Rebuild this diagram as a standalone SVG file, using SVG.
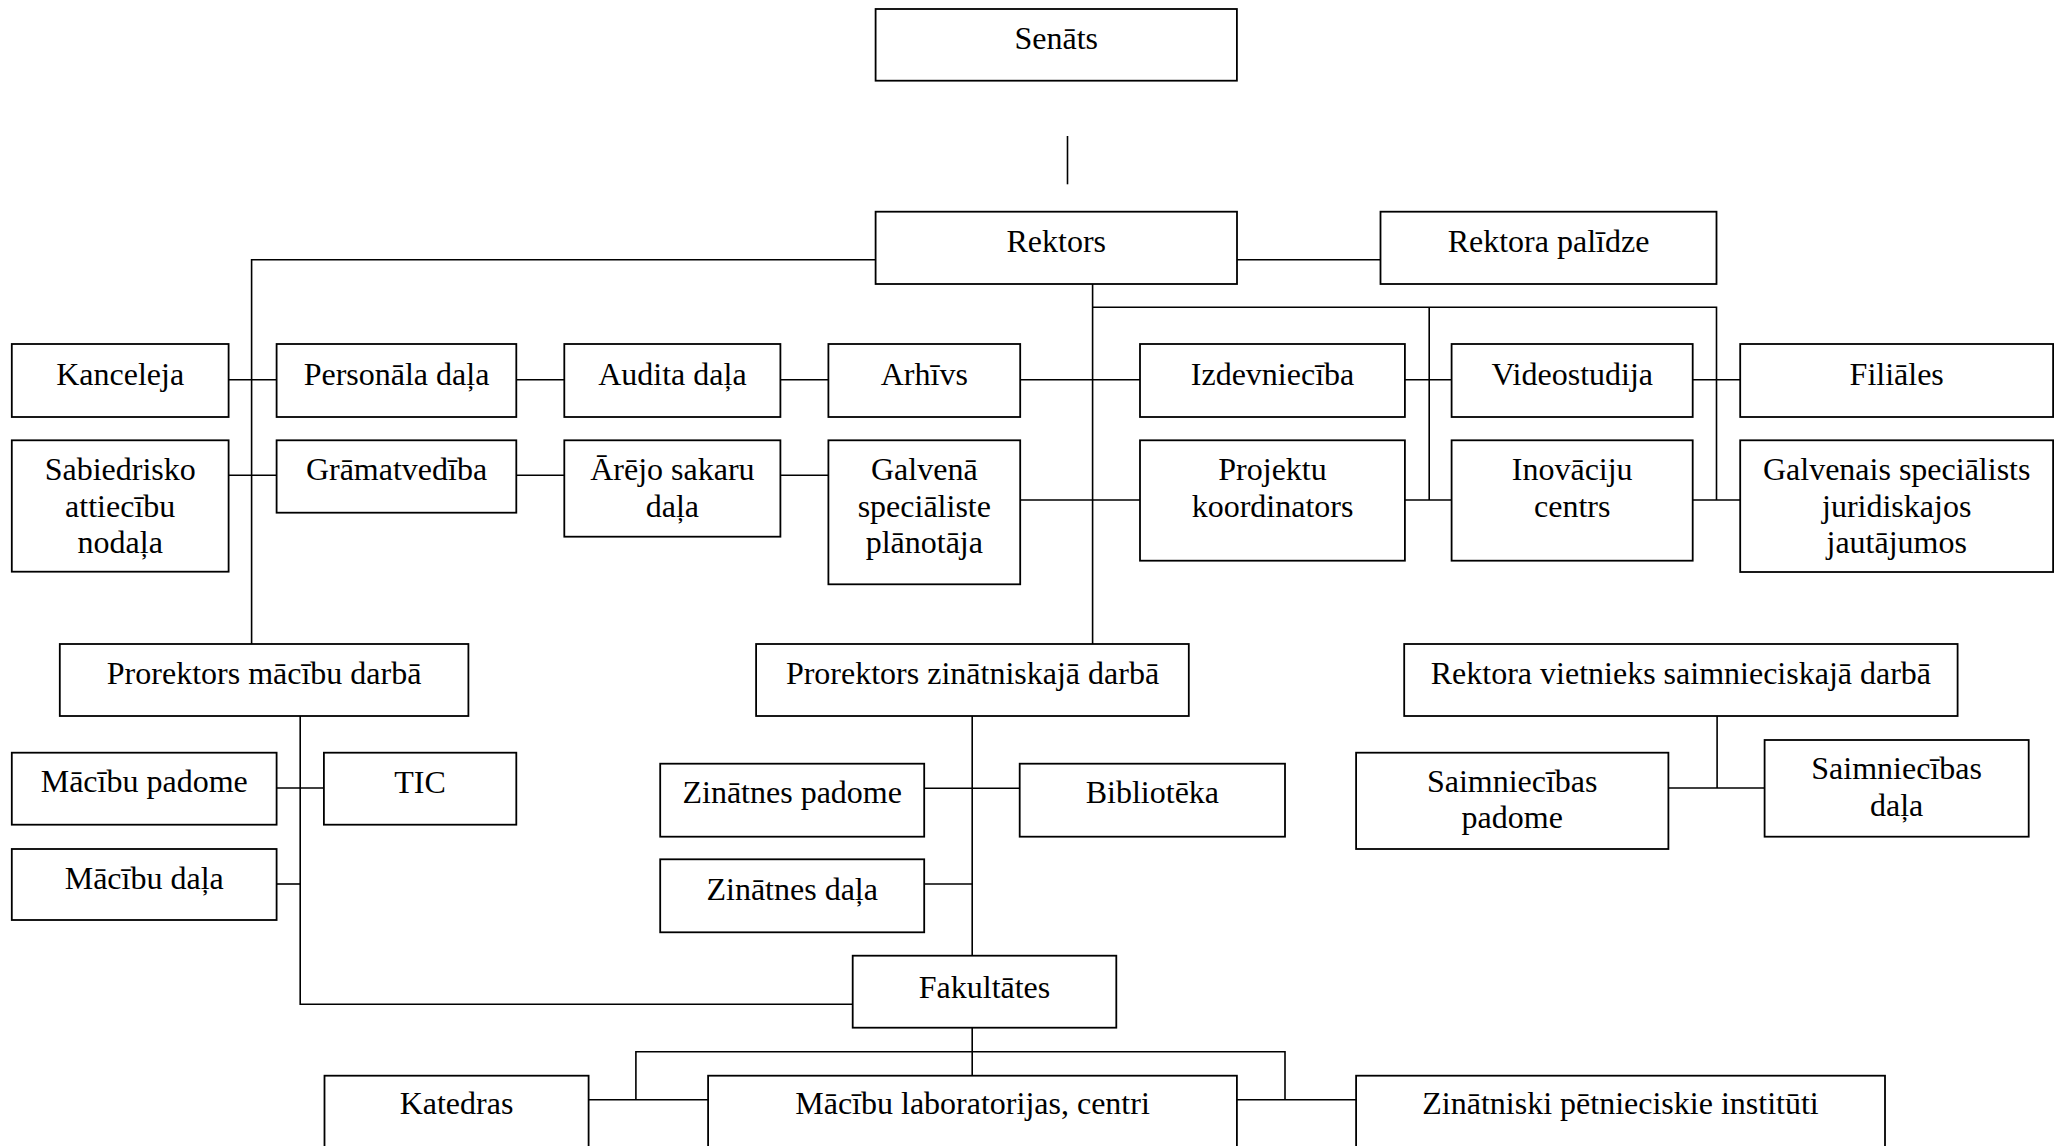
<svg xmlns="http://www.w3.org/2000/svg" width="2063" height="1146" viewBox="0 0 2063 1146">
<style>
rect.n{fill:#fff;stroke:#000;stroke-width:1.8}
text{font-family:"Liberation Serif","Times New Roman",serif;font-size:32px;fill:#000;text-anchor:middle}
.c line,.c path{stroke:#000;stroke-width:1.6;fill:none}
</style>
<rect width="2063" height="1146" fill="#fff"/>
<g class="c" id="connectors">
<line x1="1067.5" y1="136" x2="1067.5" y2="184.3"/>
<path d="M875.6 259.7H251.6V644"/>
<line x1="1237" y1="259.7" x2="1380.5" y2="259.7"/>
<path d="M1092.6 284V644"/>
<path d="M1092.6 307.3H1716.5V500"/>
<line x1="1429.2" y1="307.3" x2="1429.2" y2="500"/>
<line x1="228.6" y1="379.7" x2="276.6" y2="379.7"/>
<line x1="516.3" y1="379.7" x2="564.3" y2="379.7"/>
<line x1="780.4" y1="379.7" x2="828.4" y2="379.7"/>
<line x1="1020.2" y1="379.7" x2="1140" y2="379.7"/>
<line x1="1404.9" y1="379.7" x2="1451.6" y2="379.7"/>
<line x1="1692.7" y1="379.7" x2="1740.2" y2="379.7"/>
<line x1="228.6" y1="475.3" x2="276.6" y2="475.3"/>
<line x1="516.3" y1="475.3" x2="564.3" y2="475.3"/>
<line x1="780.4" y1="475.3" x2="828.4" y2="475.3"/>
<line x1="1020.2" y1="500" x2="1140" y2="500"/>
<line x1="1404.9" y1="500" x2="1451.6" y2="500"/>
<line x1="1692.7" y1="500" x2="1740.2" y2="500"/>
<path d="M300.2 716V1004.3H852.7"/>
<line x1="276.6" y1="788" x2="323.9" y2="788"/>
<line x1="276.6" y1="884" x2="300.2" y2="884"/>
<line x1="972.2" y1="716" x2="972.2" y2="955.7"/>
<line x1="924.2" y1="788.3" x2="1019.7" y2="788.3"/>
<line x1="924.2" y1="884" x2="972.2" y2="884"/>
<line x1="1717.1" y1="716" x2="1717.1" y2="788"/>
<line x1="1668.4" y1="788" x2="1764.6" y2="788"/>
<line x1="972.2" y1="1027.7" x2="972.2" y2="1075.7"/>
<path d="M635.9 1099.7V1051.7H1285V1099.7"/>
<line x1="588.6" y1="1099.7" x2="708.1" y2="1099.7"/>
<line x1="1236.9" y1="1099.7" x2="1356.1" y2="1099.7"/>
</g>
<g id="senats"><rect class="n" x="875.6" y="9" width="361.3" height="71.7"/><text x="1056.3" y="49">Senāts</text></g>
<g id="rektors"><rect class="n" x="875.6" y="211.7" width="361.4" height="72.3"/><text x="1056.3" y="251.7">Rektors</text></g>
<g id="rektora-palidze"><rect class="n" x="1380.5" y="211.7" width="336" height="72.3"/><text x="1548.5" y="251.7">Rektora palīdze</text></g>
<g id="kanceleja"><rect class="n" x="11.8" y="344" width="216.8" height="73"/><text x="120.2" y="385">Kanceleja</text></g>
<g id="personala"><rect class="n" x="276.6" y="344" width="239.7" height="73"/><text x="396.5" y="385">Personāla daļa</text></g>
<g id="audita"><rect class="n" x="564.3" y="344" width="216.1" height="73"/><text x="672.4" y="385">Audita daļa</text></g>
<g id="arhivs"><rect class="n" x="828.4" y="344" width="191.8" height="73"/><text x="924.3" y="385">Arhīvs</text></g>
<g id="izdevnieciba"><rect class="n" x="1140" y="344" width="264.9" height="73"/><text x="1272.5" y="385">Izdevniecība</text></g>
<g id="videostudija"><rect class="n" x="1451.6" y="344" width="241.1" height="73"/><text x="1572.2" y="385">Videostudija</text></g>
<g id="filiales"><rect class="n" x="1740.2" y="344" width="312.9" height="73"/><text x="1896.7" y="385">Filiāles</text></g>
<g id="sabiedrisko"><rect class="n" x="11.8" y="440.3" width="216.8" height="131.4"/><text x="120.2" y="480">Sabiedrisko<tspan x="120.2" dy="36.7">attiecību</tspan><tspan x="120.2" dy="36.7">nodaļa</tspan></text></g>
<g id="gramatvediba"><rect class="n" x="276.6" y="440.3" width="239.7" height="72.4"/><text x="396.5" y="480">Grāmatvedība</text></g>
<g id="arejo"><rect class="n" x="564.3" y="440.3" width="216.1" height="96.4"/><text x="672.4" y="480">Ārējo sakaru<tspan x="672.4" dy="36.7">daļa</tspan></text></g>
<g id="galvena"><rect class="n" x="828.4" y="440.3" width="191.8" height="144"/><text x="924.3" y="480">Galvenā<tspan x="924.3" dy="36.7">speciāliste</tspan><tspan x="924.3" dy="36.7">plānotāja</tspan></text></g>
<g id="projektu"><rect class="n" x="1140" y="440.3" width="264.9" height="120.4"/><text x="1272.5" y="480">Projektu<tspan x="1272.5" dy="36.7">koordinators</tspan></text></g>
<g id="inovaciju"><rect class="n" x="1451.6" y="440.3" width="241.1" height="120.4"/><text x="1572.2" y="480">Inovāciju<tspan x="1572.2" dy="36.7">centrs</tspan></text></g>
<g id="galvenais"><rect class="n" x="1740.2" y="440.3" width="312.9" height="131.7"/><text x="1896.7" y="480">Galvenais speciālists<tspan x="1896.7" dy="36.7">juridiskajos</tspan><tspan x="1896.7" dy="36.7">jautājumos</tspan></text></g>
<g id="prorektors-macibu"><rect class="n" x="59.8" y="644" width="408.6" height="72"/><text x="264.1" y="683.5">Prorektors mācību darbā</text></g>
<g id="prorektors-zin"><rect class="n" x="756.1" y="644" width="432.7" height="72"/><text x="972.5" y="683.5">Prorektors zinātniskajā darbā</text></g>
<g id="rektora-vietnieks"><rect class="n" x="1404.2" y="644" width="553.4" height="72"/><text x="1680.9" y="683.5">Rektora vietnieks saimnieciskajā darbā</text></g>
<g id="macibu-padome"><rect class="n" x="11.8" y="752.7" width="264.8" height="72"/><text x="144.2" y="791.7">Mācību padome</text></g>
<g id="tic"><rect class="n" x="323.9" y="752.7" width="192.4" height="72"/><text x="420.1" y="792.5">TIC</text></g>
<g id="macibu-dala"><rect class="n" x="11.8" y="849" width="264.8" height="71"/><text x="144.2" y="888.5">Mācību daļa</text></g>
<g id="zinatnes-padome"><rect class="n" x="660.2" y="763.7" width="264" height="73"/><text x="792.2" y="803.3">Zinātnes padome</text></g>
<g id="biblioteka"><rect class="n" x="1019.7" y="763.7" width="265.3" height="73"/><text x="1152.4" y="803.3">Bibliotēka</text></g>
<g id="zinatnes-dala"><rect class="n" x="660.2" y="859.3" width="264" height="73"/><text x="792.2" y="900">Zinātnes daļa</text></g>
<g id="saimniecibas-padome"><rect class="n" x="1356.1" y="752.7" width="312.3" height="96.3"/><text x="1512.2" y="791.7">Saimniecības<tspan x="1512.2" dy="36.7">padome</tspan></text></g>
<g id="saimniecibas-dala"><rect class="n" x="1764.6" y="740" width="264.1" height="96.7"/><text x="1896.6" y="778.7">Saimniecības<tspan x="1896.6" dy="37.5">daļa</tspan></text></g>
<g id="fakultates"><rect class="n" x="852.7" y="955.7" width="263.6" height="72"/><text x="984.5" y="997.5">Fakultātes</text></g>
<g id="katedras"><rect class="n" x="324.5" y="1075.7" width="264.1" height="90"/><text x="456.5" y="1113.5">Katedras</text></g>
<g id="macibu-lab"><rect class="n" x="708.1" y="1075.7" width="528.8" height="90"/><text x="972.5" y="1113.5">Mācību laboratorijas, centri</text></g>
<g id="instituti"><rect class="n" x="1356.1" y="1075.7" width="528.9" height="90"/><text x="1620.5" y="1113.5">Zinātniski pētnieciskie institūti</text></g>
</svg>
